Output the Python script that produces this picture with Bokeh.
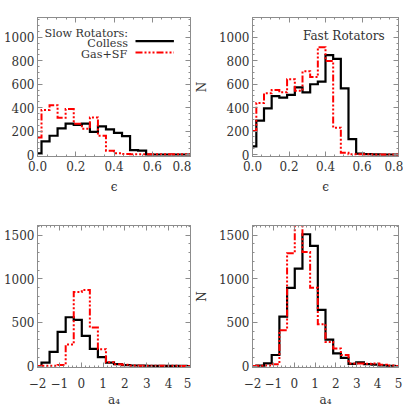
from bokeh.plotting import figure
from bokeh.layouts import column, row
from bokeh.models import (Range1d, SingleIntervalTicker, LinearAxis, Label, Arrow,
                          PrintfTickFormatter, CustomJSTickFormatter, BasicTickFormatter)
from bokeh.embed import file_html
from bokeh.resources import INLINE

# ---------------- data ----------------
eps_centers = [0.000, 0.042, 0.084, 0.126, 0.168, 0.211, 0.253, 0.295, 0.337, 0.379,
               0.421, 0.463, 0.505, 0.547, 0.589, 0.632, 0.674, 0.716, 0.758, 0.800]
a4_centers = [-2.000, -1.632, -1.263, -0.895, -0.526, -0.158, 0.211, 0.579, 0.947, 1.316,
              1.684, 2.053, 2.421, 2.789, 3.158, 3.526, 3.895, 4.263, 4.632, 5.000]

slow_eps_colless = [10, 113, 160, 223, 264, 253, 264, 193, 240, 215, 185, 157, 38, 33, 0, 0, 0, 0, 0, 0]
slow_eps_gassf = [145, 380, 421, 314, 388, 262, 220, 317, 160, 33, 10, 4, 3, 3, 2, 2, 2, 2, 2, 2]
fast_eps_colless = [69, 289, 394, 498, 485, 510, 573, 531, 600, 622, 849, 816, 564, 132, 8, 3, 1, 0, 0, 0]
fast_eps_gassf = [201, 440, 523, 551, 531, 642, 545, 711, 661, 917, 799, 229, 14, 3, 2, 2, 1, 1, 1, 0]
slow_a4_colless = [0, 40, 162, 391, 559, 529, 346, 197, 101, 38, 22, 11, 6, 4, 3, 2, 2, 1, 1, 0]
slow_a4_gassf = [0, 2, 3, 12, 246, 849, 872, 441, 193, 44, 21, 14, 5, 4, 3, 3, 2, 2, 1, 0]
fast_a4_colless = [0, 5, 30, 126, 565, 895, 1117, 1510, 1376, 643, 303, 145, 93, 25, 42, 21, 15, 8, 3, 0]
fast_a4_gassf = [0, 2, 5, 20, 410, 1292, 1700, 1305, 897, 479, 275, 202, 126, 30, 28, 25, 30, 15, 5, 0]

eps_range = (0.0, 0.8)
a4_range = (-2.0, 5.0)
top_yrange = (-17, 1170)
bot_yrange = (-17, 1610)

FONT = "DejaVu Serif"
FS = "12px"
LFS = "11.2px"
TXT = "#333333"
FRAME = "#8c8c8c"
RED_DASH = "7 2 2 2 2 2 2 2"

minus_fmt = CustomJSTickFormatter(code="""
    return tick < 0 ? "\\u2212" + Math.abs(tick).toString() : tick.toString();
""")
blank_fmt = CustomJSTickFormatter(code="return '';")


def style_axis(ax, show_labels, interval, minor, fmt=None):
    ax.ticker = SingleIntervalTicker(interval=interval, num_minor_ticks=minor)
    ax.axis_line_color = FRAME
    ax.major_tick_line_color = FRAME
    ax.minor_tick_line_color = FRAME
    ax.major_tick_in = 5
    ax.major_tick_out = 0
    ax.minor_tick_in = 2
    ax.minor_tick_out = 0
    ax.major_label_text_font = FONT
    ax.major_label_text_color = TXT
    ax.major_label_text_font_size = FS
    ax.axis_label_text_font = FONT
    ax.axis_label_text_font_size = FS
    ax.axis_label_text_font_style = "normal"
    ax.axis_label_text_color = TXT
    if not show_labels:
        ax.formatter = blank_fmt
        ax.major_label_standoff = 0
    elif fmt is not None:
        ax.formatter = fmt


def make_panel(width, height, bl, br, bt, bb, xr, yr, xint, xminor, yint, yminor,
               xfmt, xlabel, ylabel, xstand, xlabstand):
    p = figure(width=width, height=height, x_range=Range1d(*xr), y_range=Range1d(*yr),
               output_backend="svg", toolbar_location=None,
               x_axis_type=None, y_axis_type=None,
               min_border_left=bl, min_border_right=br,
               min_border_top=bt, min_border_bottom=bb)
    p.xgrid.visible = False
    p.ygrid.visible = False
    p.outline_line_color = FRAME
    p.background_fill_color = "white"
    p.border_fill_color = "white"

    xb = LinearAxis()
    style_axis(xb, True, xint, xminor, xfmt)
    xb.axis_label = xlabel
    xb.major_label_standoff = xstand
    xb.axis_label_standoff = xlabstand
    p.add_layout(xb, "below")

    xt = LinearAxis()
    style_axis(xt, False, xint, xminor)
    p.add_layout(xt, "above")

    yl = LinearAxis()
    style_axis(yl, True, yint, yminor, BasicTickFormatter())
    yl.major_label_standoff = 3
    if ylabel:
        yl.axis_label = ylabel
        yl.axis_label_standoff = 7
    p.add_layout(yl, "left")

    yr_ax = LinearAxis()
    style_axis(yr_ax, False, yint, yminor)
    p.add_layout(yr_ax, "right")
    return p


def draw_hist(p, x, black, red):
    p.step(x=x, y=black, mode="center", line_color="black", line_width=2.2, line_join="miter")
    p.step(x=x, y=red, mode="center", line_color="#ff0000", line_width=2.0,
           line_dash=RED_DASH, line_join="miter")


EPS = "\u03f5"
A4 = "a\u2084"

p1 = make_panel(191, 196, 37, 1, 17, 36, eps_range, top_yrange, 0.2, 4, 200, 4,
                PrintfTickFormatter(format="%.1f"), EPS, None, 4, 6)
p2 = make_panel(212, 196, 54, 5, 17, 36, eps_range, top_yrange, 0.2, 4, 200, 4,
                PrintfTickFormatter(format="%.1f"), EPS, "N", 4, 6)
p3 = make_panel(191, 213, 37, 1, 29, 42, a4_range, bot_yrange, 1, 5, 500, 5,
                minus_fmt, A4, None, 10, 2)
p4 = make_panel(212, 213, 54, 5, 29, 42, a4_range, bot_yrange, 1, 5, 500, 5,
                minus_fmt, A4, "N", 10, 2)

draw_hist(p1, eps_centers, slow_eps_colless, slow_eps_gassf)
draw_hist(p2, eps_centers, fast_eps_colless, fast_eps_gassf)
draw_hist(p3, a4_centers, slow_a4_colless, slow_a4_gassf)
draw_hist(p4, a4_centers, fast_a4_colless, fast_a4_gassf)

# legend / annotations (screen units relative to the plot frame)
def add_text(p, x, y, text, align="left", size=LFS):
    p.add_layout(Label(x=x, y=y, x_units="screen", y_units="screen", text=text,
                       text_font=FONT, text_font_size=size, text_color=TXT,
                       text_align=align, text_baseline="alphabetic"))

add_text(p1, 7, 122.7, "Slow Rotators:")
add_text(p1, 90.4, 112.7, "Colless", "right")
add_text(p1, 89.7, 101.7, "Gas+SF", "right")
p1.add_layout(Arrow(end=None, x_start=98, y_start=115.3, x_end=136.4, y_end=115.3,
                    start_units="screen", end_units="screen",
                    line_color="black", line_width=2.2))
p1.add_layout(Arrow(end=None, x_start=98, y_start=104, x_end=136.4, y_end=104,
                    start_units="screen", end_units="screen",
                    line_color="#ff0000", line_width=2.0, line_dash=RED_DASH))
add_text(p2, 50.4, 120.7, "Fast Rotators", size="12px")

layout = column(row(p1, p2), row(p3, p4))

open("out.html", "w").write(file_html(layout, INLINE))
